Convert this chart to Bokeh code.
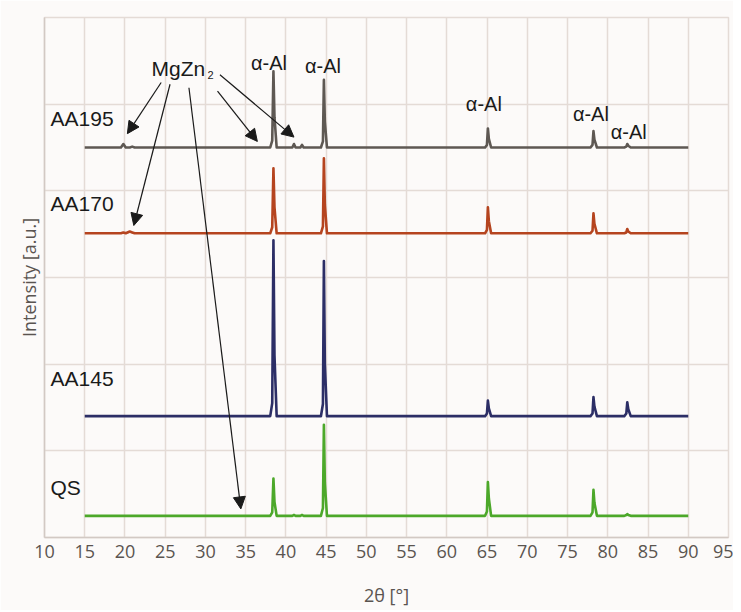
from bokeh.plotting import figure
from bokeh.models import Range1d, FixedTicker, Arrow, NormalHead, Label
from bokeh.embed import file_html
from bokeh.resources import INLINE

# ---- data ----
two_theta = [15.0, 19.5, 19.8, 20.1, 20.6, 20.9, 21.2, 38.05, 38.3, 38.45, 38.58, 38.85,
             40.8, 41.0, 41.2, 41.8, 42.0, 42.2, 44.35, 44.6, 44.72, 44.84, 45.1,
             64.75, 64.98, 65.1, 65.22, 65.5, 77.85, 78.1, 78.22, 78.34, 78.65,
             82.05, 82.3, 82.42, 82.55, 82.85, 90.0]

aa195 = [0.0, 0.0, 0.04, 0.0, 0.0, 0.01, 0.0, 0.0, 0.08, 0.88, 0.35, 0.0,
         0.0, 0.04, 0.0, 0.0, 0.03, 0.0, 0.0, 0.07, 0.78, 0.30, 0.0,
         0.0, 0.03, 0.22, 0.10, 0.0, 0.0, 0.03, 0.19, 0.09, 0.0,
         0.0, 0.01, 0.04, 0.02, 0.0, 0.0]
aa170 = [0.0, 0.0, 0.01, 0.0, 0.02, 0.01, 0.0, 0.0, 0.07, 0.75, 0.30, 0.0,
         0.0, 0.0, 0.0, 0.0, 0.0, 0.0, 0.0, 0.08, 0.865, 0.33, 0.0,
         0.0, 0.04, 0.30, 0.14, 0.0, 0.0, 0.03, 0.23, 0.11, 0.0,
         0.0, 0.01, 0.05, 0.02, 0.0, 0.0]
aa145 = [0.0, 0.0, 0.0, 0.0, 0.0, 0.0, 0.0, 0.0, 0.15, 2.03, 0.70, 0.0,
         0.0, 0.0, 0.0, 0.0, 0.0, 0.0, 0.0, 0.14, 1.79, 0.60, 0.0,
         0.0, 0.03, 0.18, 0.09, 0.0, 0.0, 0.03, 0.22, 0.11, 0.0,
         0.0, 0.03, 0.16, 0.08, 0.0, 0.0]
qs = [0.0, 0.0, 0.0, 0.0, 0.0, 0.0, 0.0, 0.0, 0.04, 0.43, 0.16, 0.0,
      0.0, 0.01, 0.0, 0.0, 0.01, 0.0, 0.0, 0.09, 1.05, 0.38, 0.0,
      0.0, 0.05, 0.39, 0.20, 0.0, 0.0, 0.04, 0.30, 0.15, 0.0,
      0.0, 0.01, 0.02, 0.01, 0.0, 0.0]

series_names = ["AA195", "AA170", "AA145", "QS"]
series_values = [aa195, aa170, aa145, qs]
offsets = [4.50, 3.51, 1.40, 0.25]
series_colors = ["#5e5853", "#b5441f", "#2c2e66", "#4ca82a"]
name_label_y = [4.84, 3.85, 1.83, 0.58]

x_ticks = list(range(10, 96, 5))
y_grid = list(range(0, 7))

# annotations
al_label_x = [37.9, 44.6, 64.6, 77.9, 82.6]
al_label_y = [5.48, 5.44, 5.00, 4.89, 4.68]
arrow_start_x = [24.5, 25.6, 27.95, 31.5, 31.8]
arrow_start_y = [5.25, 5.23, 5.19, 5.15, 5.34]
arrow_end_x = [20.3, 21.1, 34.4, 36.45, 41.0]
arrow_end_y = [4.66, 3.60, 0.33, 4.57, 4.62]

BG = "#fcfaf9"
GRID = "#e4dbd6"
TXT = "#5a5450"

p = figure(width=733, height=610, output_backend="svg", toolbar_location=None,
           x_range=Range1d(10, 95), y_range=Range1d(0, 6),
           min_border_left=44, min_border_right=5, min_border_top=17, min_border_bottom=73)
p.background_fill_color = BG
p.border_fill_color = BG
p.outline_line_color = GRID
p.outline_line_width = 1.5

p.xaxis.ticker = FixedTicker(ticks=x_ticks)
p.yaxis.ticker = FixedTicker(ticks=[])
p.xgrid.ticker = FixedTicker(ticks=x_ticks)
p.ygrid.ticker = FixedTicker(ticks=y_grid)
p.grid.grid_line_color = GRID
p.grid.grid_line_width = 1.5

for ax in (p.xaxis, p.yaxis):
    ax.major_tick_line_color = None
    ax.minor_tick_line_color = None
    ax.axis_line_color = "#d2c9c4"
    ax.axis_line_width = 1.5
    ax.major_label_text_font = "Open Sans"
    ax.major_label_text_font_size = "18px"
    ax.major_label_text_color = TXT
    ax.axis_label_text_font = "Open Sans"
    ax.axis_label_text_font_size = "18px"
    ax.axis_label_text_font_style = "normal"
    ax.axis_label_text_color = TXT

p.yaxis.axis_label = "Intensity [a.u.]"
p.yaxis.axis_label_standoff = 4
p.xaxis.axis_label = "2θ [°]"
p.xaxis.major_label_standoff = 1
p.xaxis.axis_label_standoff = 22

for name, vals, off, col, ly in zip(series_names, series_values, offsets, series_colors, name_label_y):
    ys = [off + v for v in vals]
    p.line(two_theta, ys, line_color=col, line_width=2.6, line_join="round")
    p.add_layout(Label(x=10.75, y=ly, text=name, text_font="Liberation Sans",
                       text_font_size="21px", text_color="#1a1a1a",
                       text_baseline="middle", text_align="left"))

for lx, ly in zip(al_label_x, al_label_y):
    p.add_layout(Label(x=lx, y=ly, text="α-Al", text_font="Liberation Sans",
                       text_font_size="20px", text_color="#1a1a1a",
                       text_baseline="middle", text_align="center"))

p.add_layout(Label(x=23.3, y=5.41, text="MgZn", text_font="Liberation Sans",
                   text_font_size="21px", text_color="#1a1a1a",
                   text_baseline="middle", text_align="left"))
p.add_layout(Label(x=30.25, y=5.34, text="2", text_font="Liberation Sans",
                   text_font_size="11px", text_color="#1a1a1a",
                   text_baseline="middle", text_align="left"))

for sx, sy, ex, ey in zip(arrow_start_x, arrow_start_y, arrow_end_x, arrow_end_y):
    p.add_layout(Arrow(x_start=sx, y_start=sy, x_end=ex, y_end=ey,
                       line_color="#1a1a1a", line_width=1.2,
                       end=NormalHead(size=12, fill_color="#1a1a1a", line_color="#1a1a1a")))

open("out.html", "w").write(file_html(p, INLINE))
